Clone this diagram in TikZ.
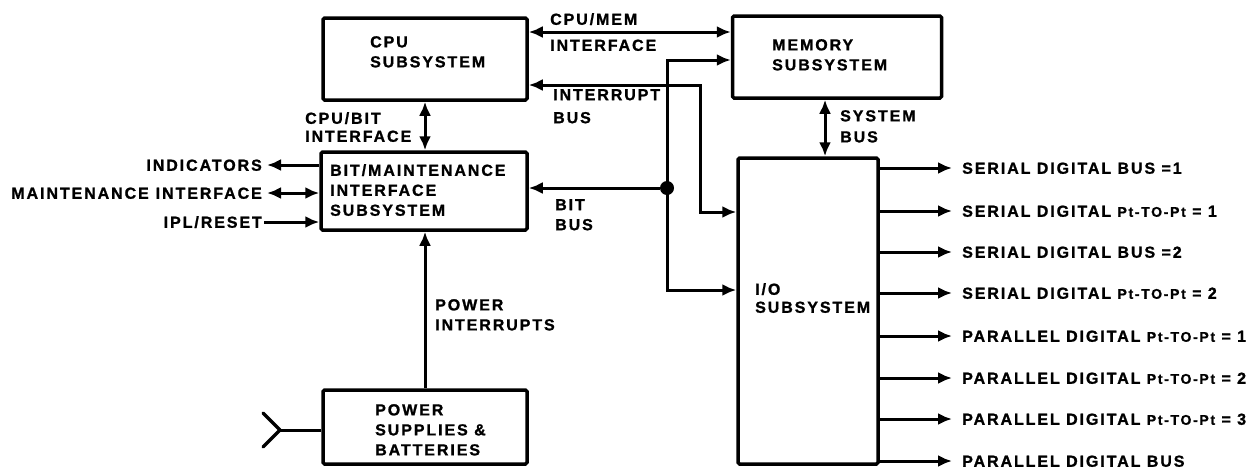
\documentclass[tikz,border=0pt]{standalone}
\usepackage{fontspec}
\setmainfont{Liberation Sans}[LetterSpace=12,BoldFeatures={FakeBold=1.2}]
\usetikzlibrary{arrows.meta}
\newcommand\ptsz{\fontsize{14}{20}\selectfont}
\begin{document}
\begin{tikzpicture}[x=1pt,y=-1pt,
  box/.style={draw, line width=3.5pt, rounded corners=1.5pt, inner sep=0pt},
  wire/.style={line width=3pt},
  arr/.style={wire, -{Latex[length=14pt,width=12pt]}},
  darr/.style={wire, {Latex[length=14pt,width=12pt]}-{Latex[length=14pt,width=12pt]}},
  lab/.style={font=\bfseries\fontsize{16}{20}\selectfont, inner sep=0pt, align=left, anchor=north west},
  one/.style={font=\bfseries\fontsize{16}{20}\selectfont, inner sep=0pt, text height=11.5pt, text depth=0pt},
]
\useasboundingbox (0,0) rectangle (1253,469);
% boxes
\node[box, minimum width=204pt, minimum height=82pt] (cpu) at (425,59) {};
\node[box, minimum width=209pt, minimum height=82pt] (mem) at (837,57) {};
\node[box, minimum width=206pt, minimum height=78pt] (bit) at (424,191) {};
\node[box, minimum width=204pt, minimum height=74pt] (pwr) at (425,427) {};
\node[box, minimum width=140pt, minimum height=306pt] (io) at (808,311) {};
% box texts
\node[lab] (cput) at (370,36) {CPU\\SUBSYSTEM};
\node[lab] (memt) at (772,39) {MEMORY\\SUBSYSTEM};
\node[lab] (bitt) at (330,164) {BIT/MAINTENANCE\\INTERFACE\\SUBSYSTEM};
\node[lab] (pwrt) at (375,404) {POWER\\SUPPLIES \&\\BATTERIES};
\node[lab, font=\bfseries\fontsize{16}{18}\selectfont] (iot) at (755,283) {I/O\\SUBSYSTEM};
% coordinates
\coordinate (cmy) at (0,32);
\coordinate (iby) at (700,85);
\coordinate (ibd) at (700,212);
\coordinate (mly) at (667,60);
\coordinate (mld) at (667,290);
\coordinate (sbx) at (825,0);
\node[circle, fill, inner sep=0pt, minimum size=14pt] (dot) at (667,188) {};
% CPU <-> MEM
\draw[darr] (cpu.east |- cmy) -- (mem.west |- cmy);
\node[lab, font=\bfseries\fontsize{16}{26}\selectfont] (cmt) at (550,13) {CPU/MEM\\INTERFACE};
% interrupt bus
\draw[darr] (cpu.east |- iby) -- (iby) -- (ibd) -- (io.west |- ibd);
\node[lab, font=\bfseries\fontsize{16}{23}\selectfont] (ibt) at (553,89) {INTERRUPT\\BUS};
% memory <-> I/O via bus
\draw[darr] (mem.west |- mly) -- (mly) -- (mld) -- (io.west |- mld);
% BIT bus
\draw[arr] (dot) -- (bit.east |- dot);
\node[lab] (bbt) at (555,199) {BIT\\BUS};
% system bus
\draw[darr] (mem.south -| sbx) -- (io.north -| sbx);
\node[lab, font=\bfseries\fontsize{16}{21}\selectfont] (sbt) at (840,110) {SYSTEM\\BUS};
% CPU <-> BIT
\draw[darr] (cpu.south) -- (cpu.south |- bit.north);
\node[lab, font=\bfseries\fontsize{16}{18}\selectfont] (cbt) at (305,112) {CPU/BIT\\INTERFACE};
% left side
\node[one, anchor=east] (ind) at (262,165) {INDICATORS};
\node[one, anchor=east] (mnt) at (262,193) {MAINTENANCE\hspace{7pt}INTERFACE};
\node[one, anchor=east] (ipl) at (262,222) {IPL/RESET};
\draw[arr] (bit.west |- ind) -- ([xshift=5pt]ind.east);
\draw[darr] (bit.west |- mnt) -- ([xshift=5pt]mnt.east);
\draw[arr] ([xshift=2pt]ipl.east) -- (bit.west |- ipl);
% power
\draw[arr] (pwr.north) -- (pwr.north |- bit.south);
\node[lab] (pit) at (435,299) {POWER\\INTERRUPTS};
\coordinate (fk) at (280,430);
\coordinate (fa) at (263,413);
\coordinate (fb) at (263,447);
\draw[wire] (pwr.west |- fk) -- (fk);
\draw[wire, line width=3.5pt, line cap=round, line join=round] (fa) -- (fk) -- (fb);
% outputs
\foreach \y/\t/\n in {168/{SERIAL DIGITAL BUS =1}/o1,
                       211/{SERIAL DIGITAL {\ptsz Pt-TO-Pt} = 1}/o2,
                       252/{SERIAL DIGITAL BUS =2}/o3,
                       293/{SERIAL DIGITAL {\ptsz Pt-TO-Pt} = 2}/o4,
                       336/{PARALLEL DIGITAL {\ptsz Pt-TO-Pt} = 1}/o5,
                       378/{PARALLEL DIGITAL {\ptsz Pt-TO-Pt} = 2}/o6,
                       419/{PARALLEL DIGITAL {\ptsz Pt-TO-Pt} = 3}/o7,
                       461/{PARALLEL DIGITAL BUS}/o8}{
  \node[one, anchor=west] (\n) at (962,\y) {\t};
  \draw[arr] (io.east |- \n.west) -- ([xshift=-10pt]\n.west);
}
\end{tikzpicture}
\end{document}
